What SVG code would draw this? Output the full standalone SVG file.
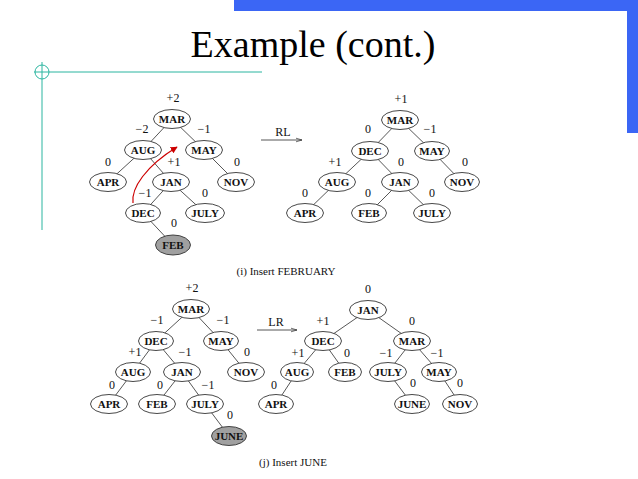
<svg xmlns="http://www.w3.org/2000/svg" width="638" height="479" viewBox="0 0 638 479">
<style>
.n ellipse{fill:#fff;stroke:#333;stroke-width:0.9}
.n.g ellipse{fill:#a0a0a0}
.n text{font-family:"Liberation Serif",serif;font-size:11px;font-weight:bold;text-anchor:middle;fill:#111}
.b{font-family:"Liberation Serif",serif;font-size:12px;text-anchor:middle;fill:#111}
.e line{stroke:#444;stroke-width:0.9}
.cap{font-family:"Liberation Serif",serif;font-size:11px;text-anchor:middle;fill:#111}
</style>
<defs>
<marker id="ah" viewBox="0 0 10 10" refX="10" refY="5" markerWidth="8" markerHeight="6" orient="auto" markerUnits="userSpaceOnUse">
<path d="M0,2 L10,5 L0,8" fill="none" stroke="#333" stroke-width="1.2"/>
</marker>
<marker id="rh" viewBox="0 0 10 10" refX="9" refY="5" markerWidth="7" markerHeight="7" orient="auto" markerUnits="userSpaceOnUse">
<path d="M0,0 L10,5 L0,10 Z" fill="#c00"/>
</marker>
</defs>
<rect x="0" y="0" width="638" height="479" fill="#fff"/>
<rect x="234" y="0" width="404" height="11" fill="#3b66f5"/>
<rect x="627" y="0" width="11" height="133" fill="#3b66f5"/>
<g stroke="#2bb5a0" stroke-width="1" fill="none">
<circle cx="42" cy="72" r="7"/>
<line x1="34" y1="72" x2="262" y2="72"/>
<line x1="42" y1="62" x2="42" y2="230"/>
</g>
<text x="313" y="57" font-family="Liberation Serif,serif" font-size="38" text-anchor="middle" fill="#000">Example (cont.)</text>

<g id="connectors" class="e">
<line x1="172" y1="119" x2="143" y2="150"/><line x1="172" y1="119" x2="204" y2="150"/>
<line x1="143" y1="150" x2="108" y2="182"/><line x1="143" y1="150" x2="171" y2="182"/>
<line x1="204" y1="150" x2="236" y2="182"/><line x1="171" y1="182" x2="143" y2="213"/>
<line x1="171" y1="182" x2="205" y2="213"/><line x1="143" y1="213" x2="173" y2="245"/>

<line x1="400" y1="120" x2="370" y2="151"/><line x1="400" y1="120" x2="432" y2="151"/>
<line x1="370" y1="151" x2="337" y2="182"/><line x1="370" y1="151" x2="400" y2="182"/>
<line x1="432" y1="151" x2="462" y2="182"/><line x1="337" y1="182" x2="305" y2="213"/>
<line x1="400" y1="182" x2="369" y2="213"/><line x1="400" y1="182" x2="432" y2="213"/>

<line x1="191" y1="309" x2="156" y2="341"/><line x1="191" y1="309" x2="221" y2="341"/>
<line x1="156" y1="341" x2="133" y2="372"/><line x1="156" y1="341" x2="182" y2="372"/>
<line x1="221" y1="341" x2="246" y2="372"/><line x1="133" y1="372" x2="109" y2="404"/>
<line x1="182" y1="372" x2="157" y2="404"/><line x1="182" y1="372" x2="205" y2="404"/>
<line x1="205" y1="404" x2="229" y2="436"/>

<line x1="368" y1="310" x2="323" y2="341"/><line x1="368" y1="310" x2="412" y2="341"/>
<line x1="323" y1="341" x2="297" y2="372"/><line x1="323" y1="341" x2="345" y2="372"/>
<line x1="412" y1="341" x2="388" y2="372"/><line x1="412" y1="341" x2="439" y2="372"/>
<line x1="297" y1="372" x2="276" y2="404"/><line x1="388" y1="372" x2="412" y2="404"/>
<line x1="439" y1="372" x2="460" y2="404"/>

<line x1="261" y1="140" x2="302" y2="140" marker-end="url(#ah)"/>
<line x1="257" y1="330" x2="297" y2="330" marker-end="url(#ah)"/>
<path d="M133,203 C131,188 146,166 177,147" fill="none" stroke="#c00" stroke-width="1.2" marker-end="url(#rh)"/>
</g>
<text class="b" x="283" y="136">RL</text>
<text class="b" x="276" y="326">LR</text>

<!-- top-left tree -->
<g id="tl-mar" class="n"><ellipse cx="172" cy="119" rx="18.5" ry="9.5"/><text x="172" y="123">MAR</text></g>
<g id="tl-aug" class="n"><ellipse cx="143" cy="150" rx="18.5" ry="9.5"/><text x="143" y="154">AUG</text></g>
<g id="tl-may" class="n"><ellipse cx="204" cy="150" rx="18.5" ry="9.5"/><text x="204" y="154">MAY</text></g>
<g id="tl-apr" class="n"><ellipse cx="108" cy="182" rx="18.5" ry="9.5"/><text x="108" y="186">APR</text></g>
<g id="tl-jan" class="n"><ellipse cx="171" cy="182" rx="18.5" ry="9.5"/><text x="171" y="186">JAN</text></g>
<g id="tl-nov" class="n"><ellipse cx="236" cy="182" rx="18.5" ry="9.5"/><text x="236" y="186">NOV</text></g>
<g id="tl-dec" class="n"><ellipse cx="143" cy="213" rx="17.5" ry="9.5"/><text x="143" y="217">DEC</text></g>
<g id="tl-july" class="n"><ellipse cx="205" cy="213" rx="19.5" ry="9.5"/><text x="205" y="217">JULY</text></g>
<g id="tl-feb" class="n g"><ellipse cx="173" cy="245" rx="17.5" ry="10"/><text x="173" y="249">FEB</text></g>
<text class="b" x="173" y="102">+2</text>
<text class="b" x="142" y="133">−2</text>
<text class="b" x="204" y="133">−1</text>
<text class="b" x="108" y="166">0</text>
<text class="b" x="174" y="166">+1</text>
<text class="b" x="237" y="166">0</text>
<text class="b" x="145" y="197">−1</text>
<text class="b" x="205" y="197">0</text>
<text class="b" x="174" y="227">0</text>
<text class="cap" x="286" y="275">(i) Insert FEBRUARY</text>

<!-- top-right tree -->
<g id="tr-mar" class="n"><ellipse cx="400" cy="120" rx="18.5" ry="9.5"/><text x="400" y="124">MAR</text></g>
<g id="tr-dec" class="n"><ellipse cx="370" cy="151" rx="18.5" ry="9.5"/><text x="370" y="155">DEC</text></g>
<g id="tr-may" class="n"><ellipse cx="432" cy="151" rx="17.5" ry="9.5"/><text x="432" y="155">MAY</text></g>
<g id="tr-aug" class="n"><ellipse cx="337" cy="182" rx="18.5" ry="9.5"/><text x="337" y="186">AUG</text></g>
<g id="tr-jan" class="n"><ellipse cx="400" cy="182" rx="18.5" ry="9.5"/><text x="400" y="186">JAN</text></g>
<g id="tr-nov" class="n"><ellipse cx="462" cy="182" rx="17.5" ry="9.5"/><text x="462" y="186">NOV</text></g>
<g id="tr-apr" class="n"><ellipse cx="305" cy="213" rx="18.5" ry="9.5"/><text x="305" y="217">APR</text></g>
<g id="tr-feb" class="n"><ellipse cx="369" cy="213" rx="17.5" ry="9.5"/><text x="369" y="217">FEB</text></g>
<g id="tr-july" class="n"><ellipse cx="432" cy="213" rx="18.5" ry="9.5"/><text x="432" y="217">JULY</text></g>
<text class="b" x="401" y="103">+1</text>
<text class="b" x="368" y="133">0</text>
<text class="b" x="430" y="133">−1</text>
<text class="b" x="335" y="166">+1</text>
<text class="b" x="401" y="166">0</text>
<text class="b" x="465" y="166">0</text>
<text class="b" x="305" y="197">0</text>
<text class="b" x="368" y="197">0</text>
<text class="b" x="432" y="197">0</text>

<!-- bottom-left tree -->
<g id="bl-mar" class="n"><ellipse cx="191" cy="309" rx="18.5" ry="9.5"/><text x="191" y="313">MAR</text></g>
<g id="bl-dec" class="n"><ellipse cx="156" cy="341" rx="17.5" ry="9.5"/><text x="156" y="345">DEC</text></g>
<g id="bl-may" class="n"><ellipse cx="221" cy="341" rx="17.5" ry="9.5"/><text x="221" y="345">MAY</text></g>
<g id="bl-aug" class="n"><ellipse cx="133" cy="372" rx="17.5" ry="9.5"/><text x="133" y="376">AUG</text></g>
<g id="bl-jan" class="n"><ellipse cx="182" cy="372" rx="18.5" ry="9.5"/><text x="182" y="376">JAN</text></g>
<g id="bl-nov" class="n"><ellipse cx="246" cy="372" rx="18.5" ry="9.5"/><text x="246" y="376">NOV</text></g>
<g id="bl-apr" class="n"><ellipse cx="109" cy="404" rx="18.5" ry="9.5"/><text x="109" y="408">APR</text></g>
<g id="bl-feb" class="n"><ellipse cx="157" cy="404" rx="18.5" ry="9.5"/><text x="157" y="408">FEB</text></g>
<g id="bl-july" class="n"><ellipse cx="205" cy="404" rx="18.5" ry="9.5"/><text x="205" y="408">JULY</text></g>
<g id="bl-june" class="n g"><ellipse cx="229" cy="436" rx="17.5" ry="9.5"/><text x="229" y="440">JUNE</text></g>
<text class="b" x="192" y="292">+2</text>
<text class="b" x="157" y="324">−1</text>
<text class="b" x="223" y="324">−1</text>
<text class="b" x="135" y="356">+1</text>
<text class="b" x="185" y="356">−1</text>
<text class="b" x="247" y="356">0</text>
<text class="b" x="112" y="389">0</text>
<text class="b" x="160" y="389">0</text>
<text class="b" x="208" y="389">−1</text>
<text class="b" x="230" y="419">0</text>
<text class="cap" x="293" y="466">(j) Insert JUNE</text>

<!-- bottom-right tree -->
<g id="br-jan" class="n"><ellipse cx="368" cy="310" rx="18.5" ry="9.5"/><text x="368" y="314">JAN</text></g>
<g id="br-dec" class="n"><ellipse cx="323" cy="341" rx="18.5" ry="9.5"/><text x="323" y="345">DEC</text></g>
<g id="br-mar" class="n"><ellipse cx="412" cy="341" rx="18.5" ry="9.5"/><text x="412" y="345">MAR</text></g>
<g id="br-aug" class="n"><ellipse cx="297" cy="372" rx="16.5" ry="9.5"/><text x="297" y="376">AUG</text></g>
<g id="br-feb" class="n"><ellipse cx="345" cy="372" rx="16.5" ry="9.5"/><text x="345" y="376">FEB</text></g>
<g id="br-july" class="n"><ellipse cx="388" cy="372" rx="18.5" ry="9.5"/><text x="388" y="376">JULY</text></g>
<g id="br-may" class="n"><ellipse cx="439" cy="372" rx="17.5" ry="9.5"/><text x="439" y="376">MAY</text></g>
<g id="br-apr" class="n"><ellipse cx="276" cy="404" rx="17.5" ry="9.5"/><text x="276" y="408">APR</text></g>
<g id="br-june" class="n"><ellipse cx="412" cy="404" rx="17.5" ry="9.5"/><text x="412" y="408">JUNE</text></g>
<g id="br-nov" class="n"><ellipse cx="460" cy="404" rx="17.5" ry="9.5"/><text x="460" y="408">NOV</text></g>
<text class="b" x="368" y="293">0</text>
<text class="b" x="323" y="325">+1</text>
<text class="b" x="412" y="325">0</text>
<text class="b" x="298" y="357">+1</text>
<text class="b" x="347" y="357">0</text>
<text class="b" x="386" y="357">−1</text>
<text class="b" x="437" y="357">−1</text>
<text class="b" x="274" y="389">0</text>
<text class="b" x="413" y="387">0</text>
<text class="b" x="460" y="387">0</text>
</svg>
